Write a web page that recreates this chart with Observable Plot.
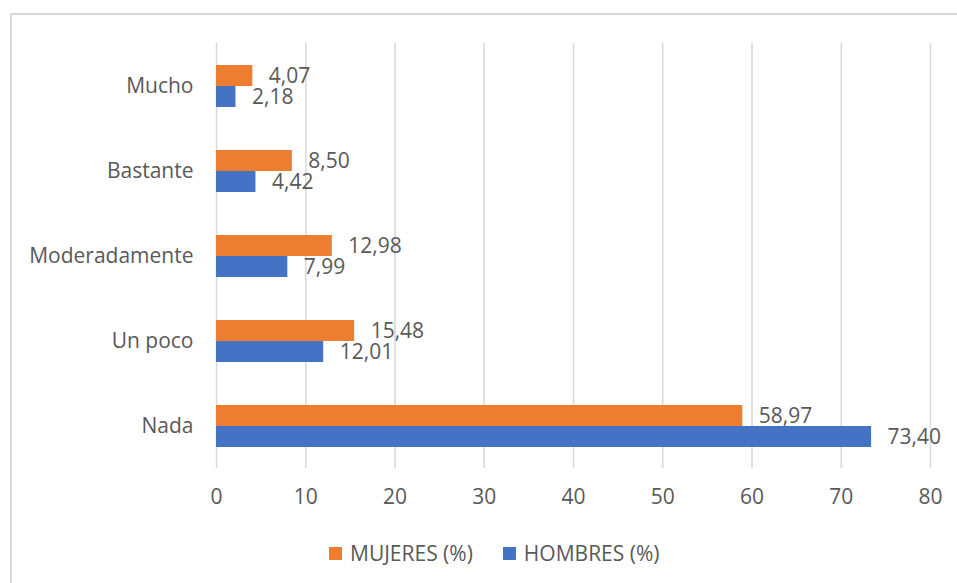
<!DOCTYPE html>
<html>
<head>
<meta charset="utf-8">
<script src="https://cdn.jsdelivr.net/npm/d3@7"></script>
<script src="https://cdn.jsdelivr.net/npm/@observablehq/plot@0.6"></script>
<style>
  html, body { margin: 0; padding: 0; background: #fff; }
  body { width: 957px; height: 583px; overflow: hidden; position: relative; font-family: "Open Sans", sans-serif; }
  #frame { position: absolute; left: 10px; top: 13px; width: 1000px; height: 620px; border: 2px solid #d9d9d9; box-sizing: border-box; }
  #chart { position: absolute; left: 0; top: 0; }
  #legend { position: absolute; left: 329px; top: 539px; display: flex; align-items: center; font-size: 21px; color: #595959; }
  .item { display: flex; align-items: center; margin-right: 30px; }
  .sw { width: 13px; height: 13px; margin-right: 8px; }
</style>
</head>
<body>
<div id="frame"></div>
<div id="chart"></div>
<div id="legend"></div>
<script>
const categories = ["Mucho", "Bastante", "Moderadamente", "Un poco", "Nada"];
const series = ["MUJERES (%)", "HOMBRES (%)"];
const mujeres = [4.07, 8.50, 12.98, 15.48, 58.97];
const hombres = [2.18, 4.42, 7.99, 12.01, 73.40];
const colors = ["#ED7D31", "#4472C4"];
const xTicks = [0, 10, 20, 30, 40, 50, 60, 70, 80];

const data = [];
categories.forEach((c, i) => {
  data.push({cat: c, serie: series[0], value: mujeres[i]});
  data.push({cat: c, serie: series[1], value: hombres[i]});
});
const fmt = v => v.toFixed(2).replace(".", ",");

const plot = Plot.plot({
  width: 957,
  height: 520,
  marginLeft: 216,
  marginRight: 27,
  marginTop: 43,
  marginBottom: 52,
  style: {fontFamily: "Open Sans, sans-serif", fontSize: "21px", color: "#595959", background: "transparent"},
  x: {domain: [0, 80], ticks: xTicks, tickSize: 0, tickPadding: 21, label: null, grid: true},
  fy: {domain: categories, padding: 0, label: null, tickSize: 0, tickPadding: 23},
  y: {domain: series, paddingInner: 0, paddingOuter: 0.95, axis: null},
  color: {domain: series, range: colors},
  marks: [
    Plot.gridX(xTicks, {stroke: "#d9d9d9", strokeOpacity: 1, strokeWidth: 1.5}),
    Plot.barX(data, {x: "value", y: "serie", fy: "cat", fill: "serie"}),
    Plot.text(data, {x: "value", y: "serie", fy: "cat", text: d => fmt(d.value), textAnchor: "start", dx: 16, fill: "#595959", fontSize: 21})
  ]
});
document.getElementById("chart").appendChild(plot);

const leg = document.getElementById("legend");
series.forEach((s, i) => {
  const item = document.createElement("div");
  item.className = "item";
  const sw = document.createElement("div");
  sw.className = "sw";
  sw.style.background = colors[i];
  const t = document.createElement("span");
  t.textContent = s;
  item.appendChild(sw);
  item.appendChild(t);
  leg.appendChild(item);
});
</script>
</body>
</html>
